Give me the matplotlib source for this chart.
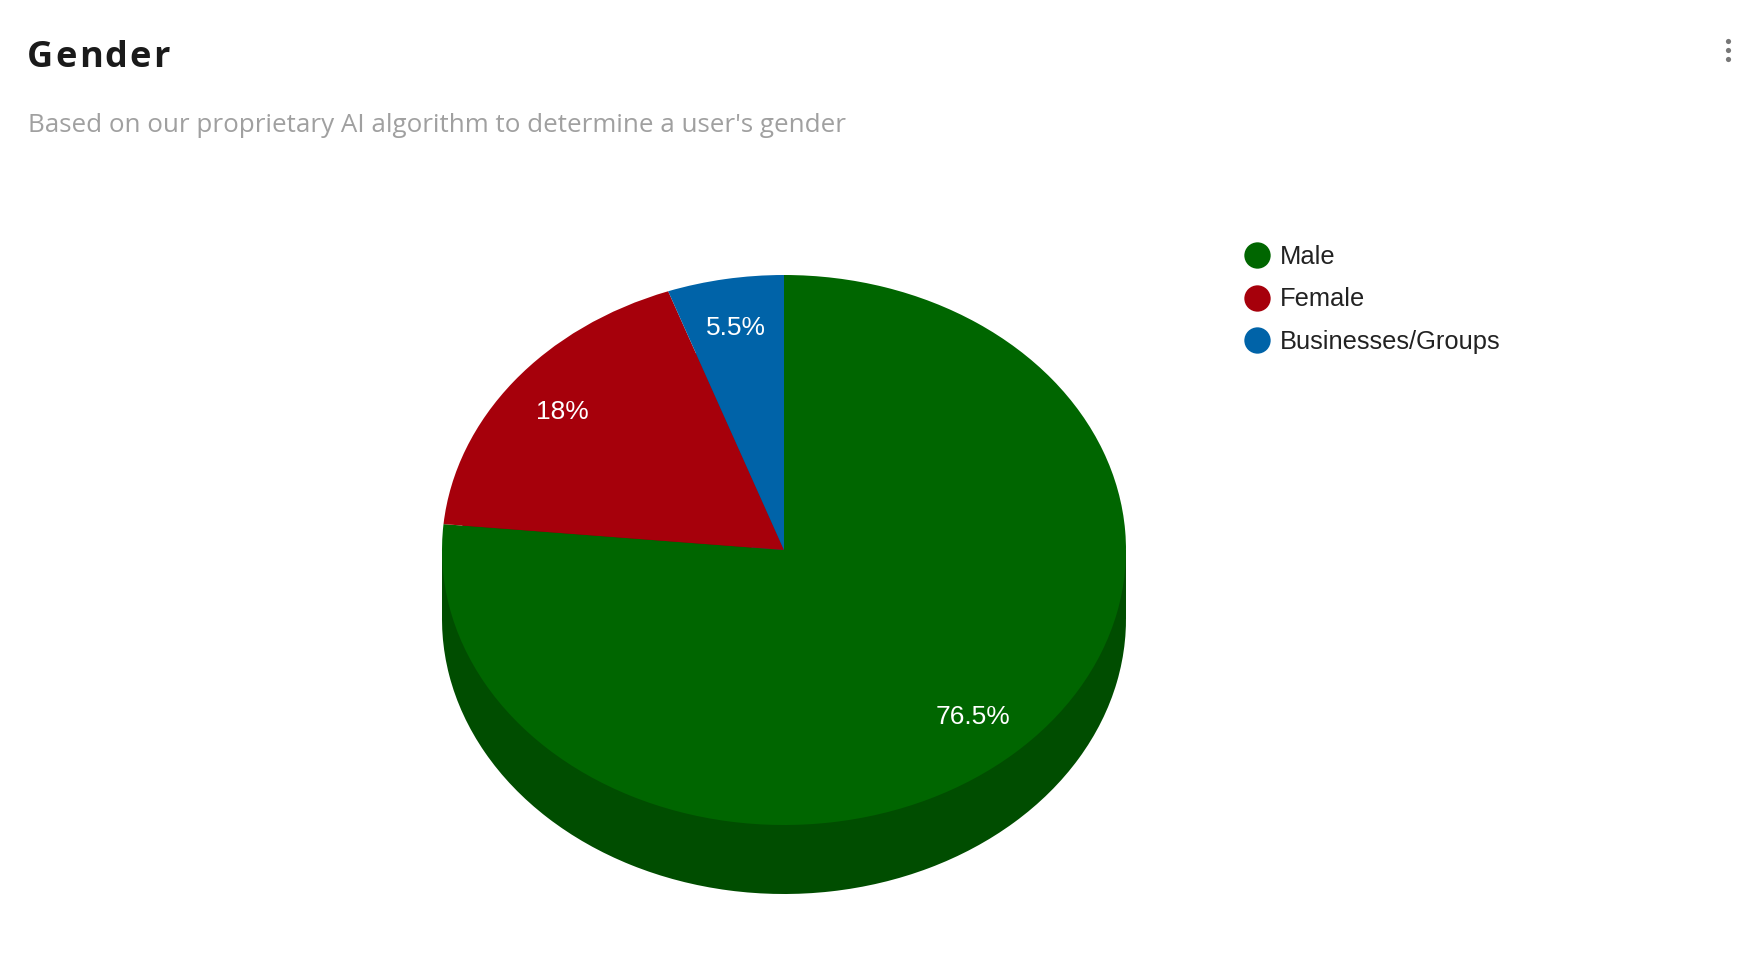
import matplotlib
matplotlib.use("Agg")
import matplotlib.pyplot as plt

# dados do gráfico
categorias = ["Male", "Female", "Businesses/Groups"]
percentuais = [76.5, 18, 5.5]
cores = ["#006600", "#a6000b", "#0063a8"]
cores_lado = ["#004d00", "#7a0008", "#004a7e"]

titulo = "Gender"
subtitulo = "Based on our proprietary AI algorithm to determine a user's gender"

W, H = 1748, 956
fig = plt.figure(figsize=(W / 100, H / 100), dpi=100)

# geometria da pizza 3D (pixels)
cx, cy = 784, 550
rx, ry = 342, 275
prof = 69
d = prof / ry

left = cx - 1.1 * rx
bottom = (H - cy) - (1.1 + d) * ry
ax = fig.add_axes([left / W, bottom / H, 2.2 * rx / W, (2.2 + d) * ry / H])


def fmt(p):
    return ("%.1f" % p).rstrip("0").rstrip(".") + "%"


# lateral (parte escura)
ax.pie(percentuais, colors=cores_lado, startangle=90, counterclock=False,
       center=(0, -d), wedgeprops=dict(linewidth=0))
ax.fill_between([-1, 1], -d, 0, color=cores_lado[0], linewidth=0)

# topo
ax.pie(percentuais, colors=cores, startangle=90, counterclock=False,
       autopct=fmt, pctdistance=0.82, wedgeprops=dict(linewidth=0),
       textprops=dict(color="white", fontsize=19, family="Liberation Sans"))

ax.set_aspect("auto")
ax.set_xlim(-1.1, 1.1)
ax.set_ylim(-1.1 - d, 1.1)
ax.axis("off")

# camada de textos em pixels
ov = fig.add_axes([0, 0, 1, 1])
ov.set_xlim(0, W)
ov.set_ylim(H, 0)
ov.axis("off")

# título com espaçamento entre letras
renderer = fig.canvas.get_renderer()
x = 27
for letra in titulo:
    t = ov.text(x, 67, letra, fontsize=26, weight="bold", family="Open Sans",
                color="#1a1a1a", va="baseline")
    x += t.get_window_extent(renderer).width + 2.1

ov.text(28, 132, subtitulo, fontsize=18.7, family="Open Sans",
        color="#a0a0a0", va="baseline")

# legenda
for i, (nome, cor) in enumerate(zip(categorias, cores)):
    y = 255 + i * 42.5
    ov.scatter(1257, y, s=360, color=cor, linewidths=0)
    ov.text(1280, y + 8.5, nome, fontsize=18.4, family="Liberation Sans",
            color="#222222", va="baseline")

# menu (três pontos)
ov.scatter([1728, 1728, 1728], [41, 50, 59], s=14, color="#777777", linewidths=0)

fig.savefig("out.png", dpi=100)
